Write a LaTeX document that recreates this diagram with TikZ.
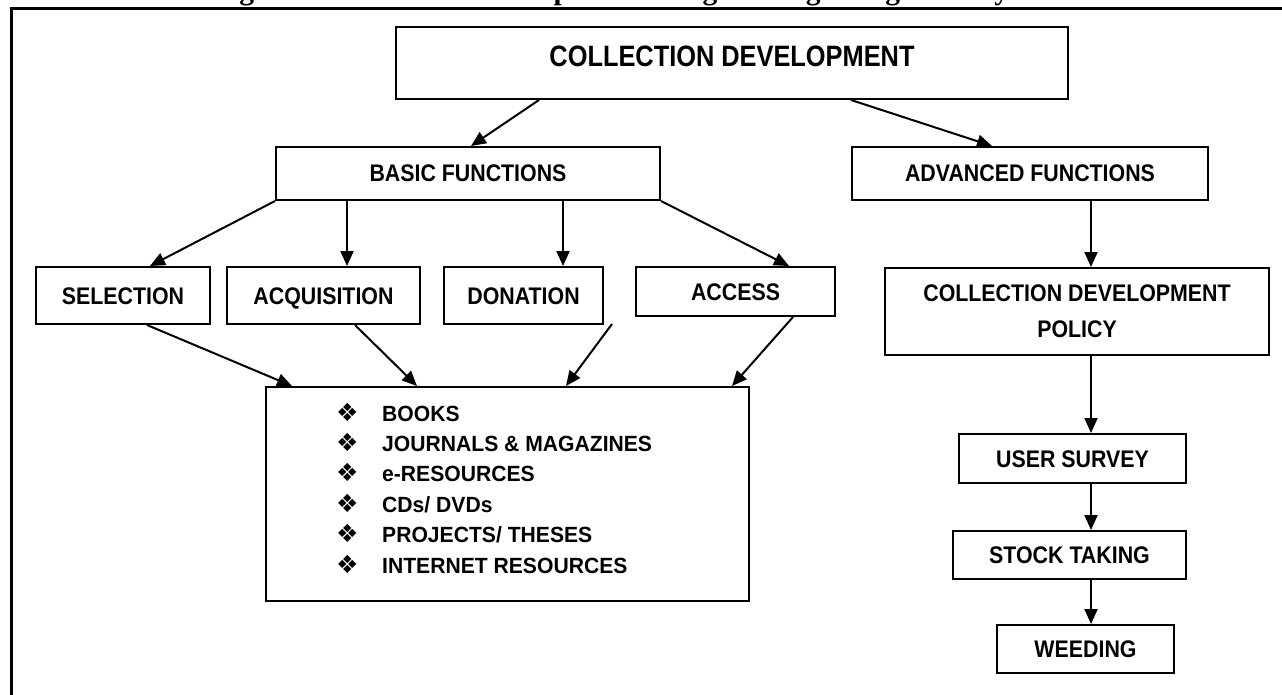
\documentclass[tikz,border=0pt]{standalone}
\usepackage{fontspec}
\setmainfont{Liberation Sans}
\newfontfamily\labfont{Liberation Sans}[FakeStretch=0.89]
\newfontfamily\listfont{Liberation Sans}[FakeStretch=0.96]
\newfontfamily\titlefont{Liberation Sans}[FakeStretch=0.86]
\newfontfamily\capfont{Liberation Serif}
\newfontfamily\symfont{DejaVu Sans}
\usetikzlibrary{arrows.meta}

\begin{document}
\begin{tikzpicture}[x=1pt,y=-1pt,
  box/.style={draw=black,line width=2pt,inner sep=0pt,align=center,
    font=\labfont\bfseries\fontsize{24}{36}\selectfont},
  oneline/.style={text height=17pt,text depth=0pt},
  arr/.style={line width=2pt,-{Triangle[length=15pt,width=13pt]}},
  item/.style={anchor=base west,inner sep=0pt,
    font=\listfont\bfseries\fontsize{22}{26}\selectfont},
]
\useasboundingbox (0,0) rectangle (1282,695);
\clip (0,0) rectangle (1282,695);

% caption above the frame (only its lowest strokes fall on the page)
\node[anchor=base west,inner sep=0pt,
  font=\capfont\bfseries\fontsize{29.5}{30}\selectfont] (caption) at (213,-0.5)
  {Figure 1: Collection development in engineering college library};

% outer frame
\draw[line width=3pt] (11,705) -- (11,8.5) -- (1295,8.5);

% boxes
\node[box,minimum width=672pt,minimum height=72pt,text height=40pt,text depth=32pt,
  font=\titlefont\bfseries\fontsize{29.5}{30}\selectfont] (cd) at (732,63) {COLLECTION DEVELOPMENT};
\node[box,oneline,minimum width=384pt,minimum height=53pt] (basic) at (468,173.5) {BASIC FUNCTIONS};
\node[box,oneline,minimum width=356pt,minimum height=53pt] (adv) at (1030,173.5) {ADVANCED FUNCTIONS};
\node[box,oneline,minimum width=174pt,minimum height=57pt] (sel) at (123,295.5) {SELECTION};
\node[box,oneline,minimum width=193pt,minimum height=57pt] (acq) at (323.5,295.5) {ACQUISITION};
\node[box,oneline,minimum width=159pt,minimum height=57pt] (don) at (523.5,295.5) {DONATION};
\node[box,oneline,minimum width=199pt,minimum height=49pt] (acc) at (735.5,291.5) {ACCESS};
\node[box,minimum width=483pt,minimum height=214pt] (res) at (507.5,494) {};
\node[box,minimum width=384pt,minimum height=87pt] (pol) at (1077,311.5) {COLLECTION DEVELOPMENT\\POLICY};
\node[box,oneline,minimum width=227pt,minimum height=49pt] (user) at (1072.5,458.5) {USER SURVEY};
\node[box,oneline,minimum width=233pt,minimum height=48pt] (stock) at (1069.5,555) {STOCK TAKING};
\node[box,oneline,minimum width=177pt,minimum height=48pt] (weed) at (1085.5,649) {WEEDING};

% resource list
\foreach \t [count=\i from 0] in {BOOKS, JOURNALS \& MAGAZINES, e-RESOURCES, CDs/ DVDs, PROJECTS/ THESES, INTERNET RESOURCES}
  \node[item] (item\i) at (336,421+30.4*\i)
    {\makebox[46pt][l]{\symfont\fontsize{25}{26}\selectfont ❖}\t};

% connectors
\draw[arr] ([xshift=144pt]cd.south west) -- ([xshift=3pt]basic.north);
\draw[arr] ([xshift=456pt]cd.south west) -- ([xshift=141pt]adv.north west);
\draw[arr] (basic.south west) -- ([xshift=115pt]sel.north west);
\draw[arr] ([xshift=72pt]basic.south west) -- ([xshift=121pt]acq.north west);
\draw[arr] ([xshift=288pt]basic.south west) -- ([xshift=120pt]don.north west);
\draw[arr] (basic.south east) -- ([xshift=154pt]acc.north west);
\draw[arr] ([xshift=112pt]sel.south west) -- ([xshift=27pt]res.north west);
\draw[arr] ([xshift=129pt]acq.south west) -- ([xshift=152pt]res.north west);
\coordinate (gap) at (612,324);
\draw[arr] (gap) -- ([xshift=301pt]res.north west);
\draw[arr] ([xshift=158pt]acc.south west) -- ([xshift=467pt]res.north west);
\draw[arr] ([xshift=240pt]adv.south west) -- ([xshift=207pt]pol.north west);
\draw[arr] ([xshift=207pt]pol.south west) -- ([xshift=133pt]user.north west);
\draw[arr] ([xshift=133pt]user.south west) -- ([xshift=139pt]stock.north west);
\draw[arr] ([xshift=139pt]stock.south west) -- ([xshift=95pt]weed.north west);
\end{tikzpicture}
\end{document}
